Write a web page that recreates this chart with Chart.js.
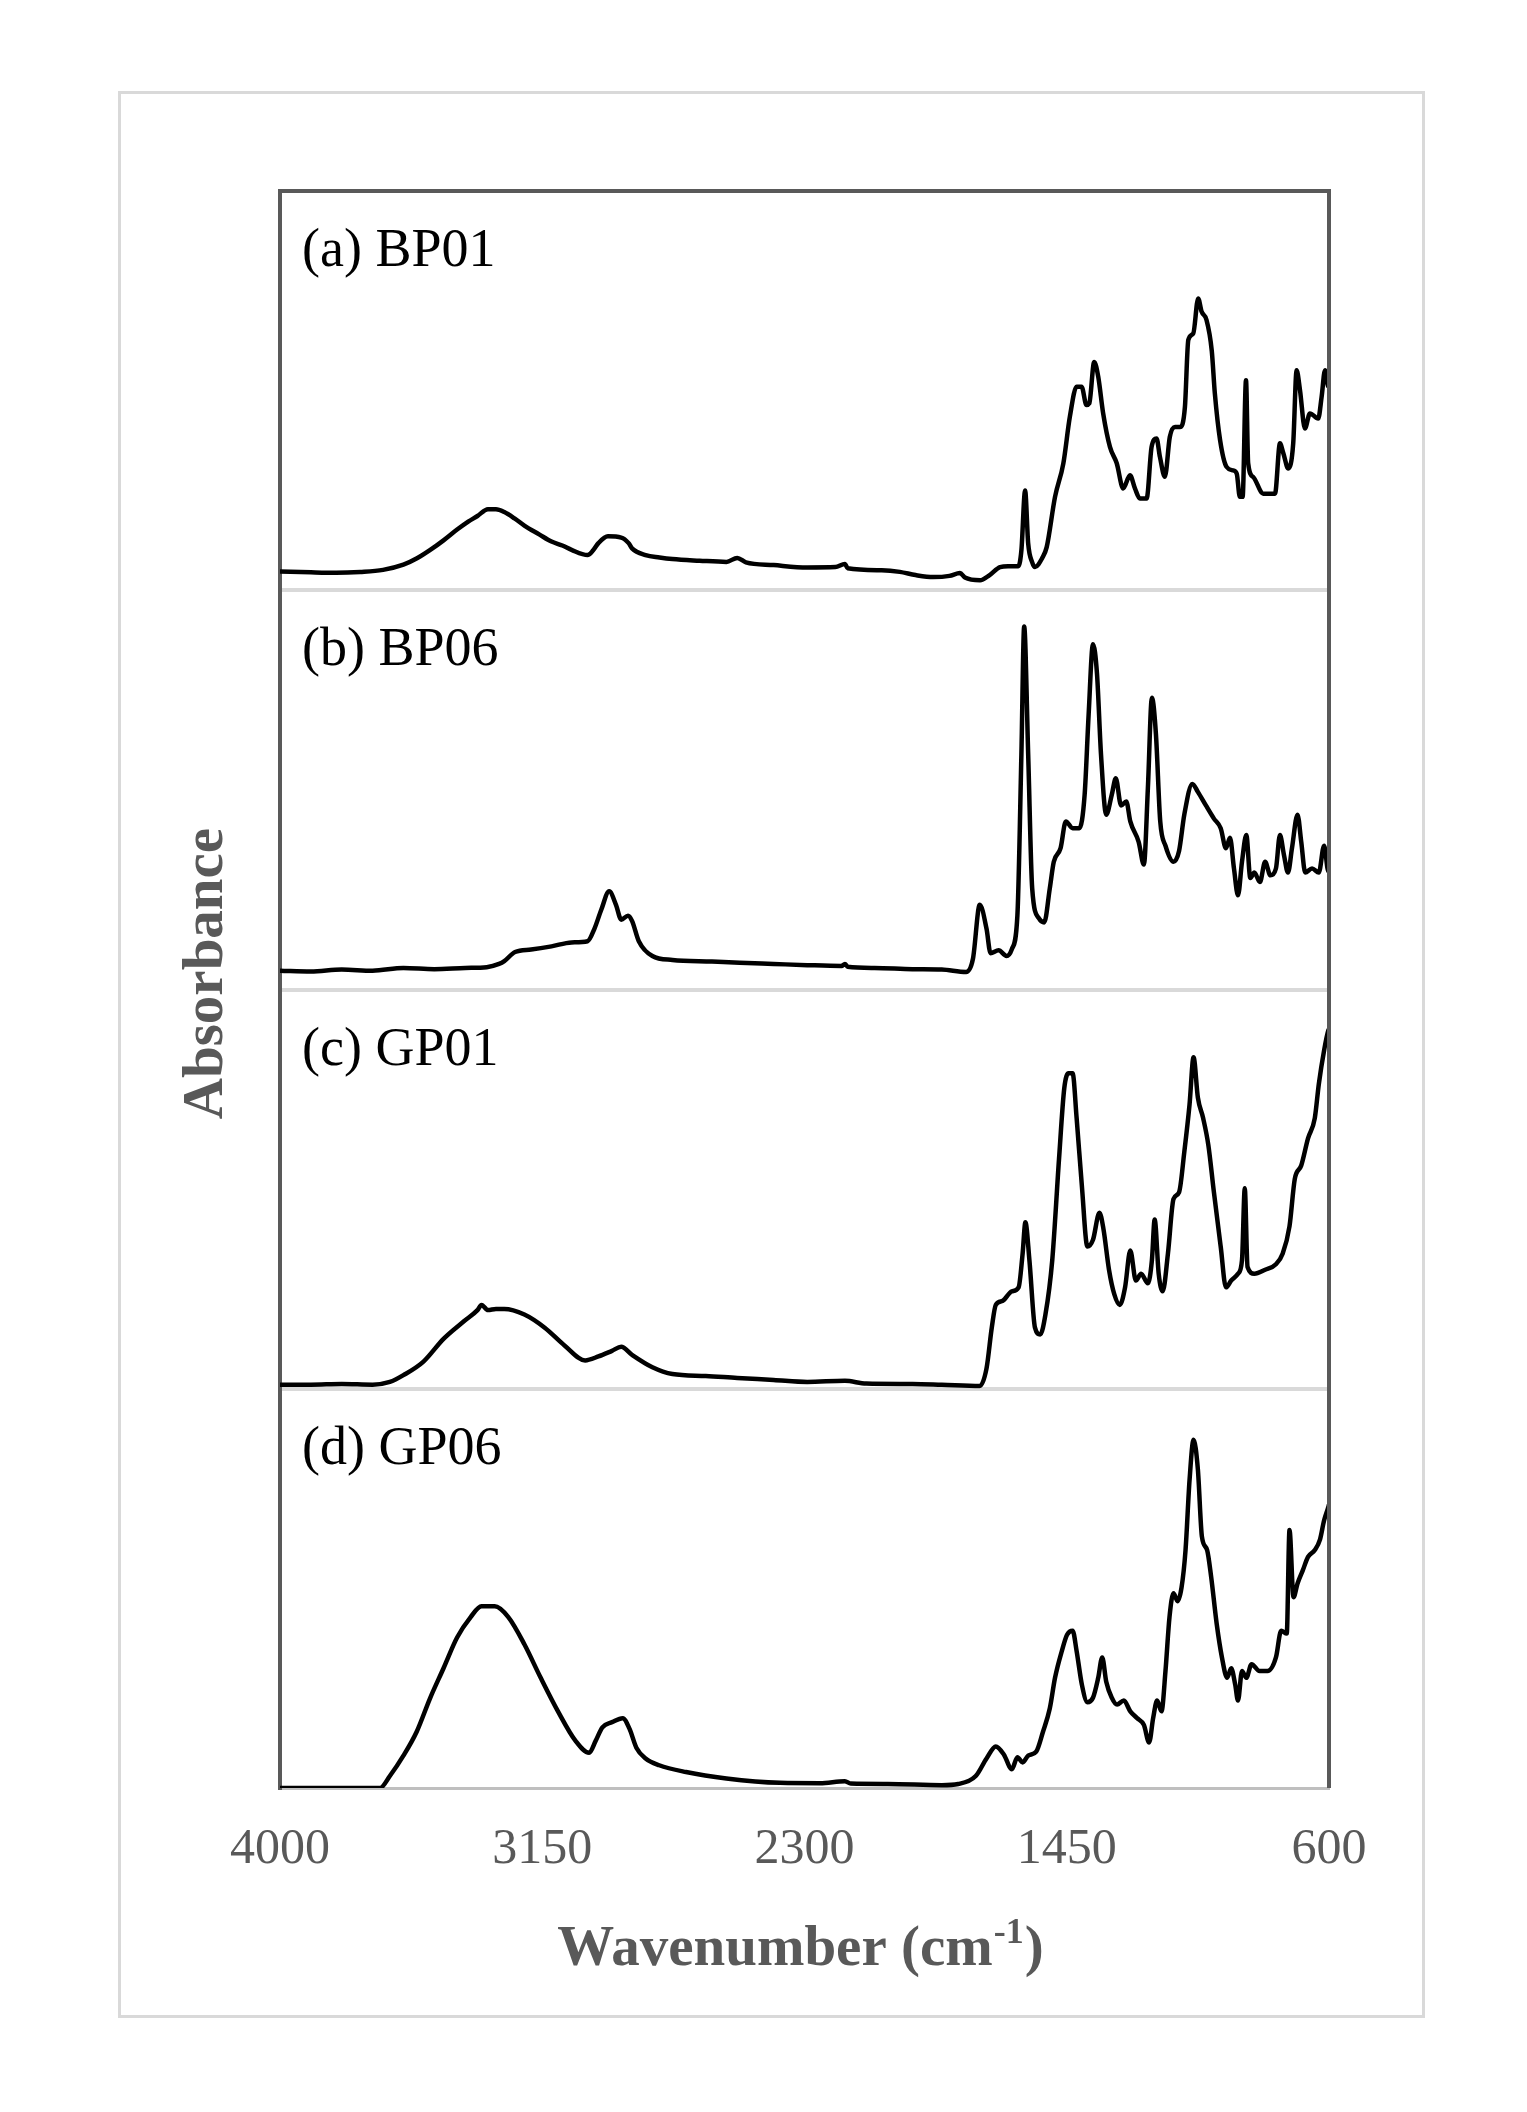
<!DOCTYPE html>
<html>
<head>
<meta charset="utf-8">
<script src="https://cdn.jsdelivr.net/npm/chart.js@4.4.1/dist/chart.umd.min.js"></script>
<style>
  html, body { margin: 0; padding: 0; background: #fff; }
  #frame { position: absolute; left: 118px; top: 91px; width: 1307px; height: 1927px; box-sizing: border-box; border: 3px solid #d9d9d9; }
  #spectra { position: absolute; left: 0; top: 0; }
</style>
</head>
<body>
<div id="frame"></div>
<canvas id="spectra" width="1527" height="2112"></canvas>
<script>
// FTIR spectra, absorbance in arbitrary units (0..1 of each panel)
var panelLabels = ['(a) BP01', '(b) BP06', '(c) GP01', '(d) GP06'];
var xTickValues = [4000, 3150, 2300, 1450, 600];

var bp01Wn = [4000, 3900, 3818, 3740, 3666, 3600, 3556, 3513, 3470, 3426, 3390, 3360, 3326, 3300, 3273, 3240, 3208, 3160, 3120, 3085, 3055, 3003, 2985, 2968, 2937, 2894, 2870, 2859, 2815, 2770, 2728, 2640, 2553, 2518, 2490, 2400, 2291, 2200, 2169, 2160, 2050, 1991, 1940, 1883, 1830, 1796, 1780, 1731, 1700, 1666, 1640, 1607, 1597, 1585, 1575, 1562, 1553, 1530, 1515, 1488, 1461, 1440, 1418, 1402, 1386, 1377, 1361, 1348, 1332, 1310, 1288, 1267, 1245, 1229, 1213, 1191, 1175, 1159, 1148, 1132, 1116, 1099, 1083, 1067, 1056, 1040, 1024, 1013, 997, 980, 970, 953, 932, 910, 899, 889, 880, 869, 862, 846, 813, 775, 759, 748, 732, 716, 705, 694, 678, 662, 635, 624, 613, 602, 600];
var bp01Abs = [0.047, 0.045, 0.044, 0.046, 0.051, 0.064, 0.080, 0.101, 0.125, 0.152, 0.172, 0.186, 0.203, 0.203, 0.196, 0.180, 0.162, 0.140, 0.122, 0.112, 0.101, 0.088, 0.100, 0.118, 0.135, 0.132, 0.118, 0.105, 0.088, 0.082, 0.078, 0.074, 0.071, 0.081, 0.070, 0.063, 0.057, 0.058, 0.066, 0.055, 0.050, 0.046, 0.038, 0.033, 0.036, 0.043, 0.032, 0.025, 0.038, 0.058, 0.060, 0.060, 0.100, 0.250, 0.117, 0.070, 0.058, 0.080, 0.108, 0.234, 0.318, 0.434, 0.510, 0.510, 0.464, 0.468, 0.572, 0.535, 0.443, 0.359, 0.318, 0.255, 0.288, 0.255, 0.230, 0.230, 0.359, 0.380, 0.334, 0.284, 0.384, 0.409, 0.409, 0.459, 0.627, 0.643, 0.731, 0.698, 0.677, 0.600, 0.493, 0.376, 0.309, 0.300, 0.292, 0.234, 0.234, 0.526, 0.318, 0.284, 0.242, 0.242, 0.368, 0.343, 0.305, 0.368, 0.551, 0.501, 0.405, 0.443, 0.430, 0.484, 0.551, 0.510, 0.520];

var bp06Wn = [4000, 3900, 3800, 3700, 3600, 3500, 3400, 3330, 3290, 3273, 3238, 3186, 3120, 3055, 3003, 2981, 2959, 2933, 2911, 2894, 2872, 2859, 2837, 2793, 2728, 2600, 2510, 2400, 2291, 2180, 2169, 2160, 2073, 1950, 1855, 1776, 1754, 1732, 1710, 1697, 1671, 1645, 1628, 1610, 1597, 1588, 1575, 1562, 1540, 1523, 1505, 1492, 1470, 1453, 1431, 1409, 1392, 1379, 1365, 1352, 1339, 1322, 1304, 1291, 1274, 1257, 1244, 1217, 1200, 1187, 1174, 1161, 1147, 1130, 1104, 1086, 1069, 1043, 1025, 999, 973, 951, 934, 921, 908, 895, 882, 868, 855, 842, 824, 807, 790, 772, 759, 746, 733, 720, 702, 690, 677, 655, 633, 616, 602, 600];
var bp06Abs = [0.047, 0.045, 0.050, 0.047, 0.054, 0.051, 0.054, 0.056, 0.064, 0.071, 0.094, 0.100, 0.108, 0.118, 0.121, 0.152, 0.199, 0.246, 0.212, 0.175, 0.185, 0.172, 0.121, 0.084, 0.074, 0.070, 0.067, 0.064, 0.061, 0.059, 0.064, 0.057, 0.054, 0.051, 0.050, 0.044, 0.077, 0.212, 0.152, 0.091, 0.098, 0.084, 0.101, 0.185, 0.589, 0.909, 0.589, 0.253, 0.178, 0.168, 0.253, 0.320, 0.354, 0.421, 0.404, 0.404, 0.488, 0.690, 0.865, 0.791, 0.589, 0.438, 0.488, 0.529, 0.461, 0.471, 0.421, 0.370, 0.313, 0.505, 0.731, 0.640, 0.421, 0.360, 0.320, 0.347, 0.438, 0.515, 0.495, 0.461, 0.428, 0.404, 0.354, 0.380, 0.303, 0.236, 0.320, 0.387, 0.279, 0.293, 0.269, 0.320, 0.286, 0.303, 0.387, 0.337, 0.293, 0.354, 0.438, 0.370, 0.293, 0.303, 0.293, 0.360, 0.296, 0.300];

var gp01Wn = [4000, 3900, 3800, 3700, 3644, 3600, 3535, 3470, 3404, 3360, 3347, 3326, 3300, 3273, 3208, 3142, 3077, 3011, 2968, 2924, 2894, 2859, 2793, 2728, 2620, 2518, 2400, 2291, 2169, 2100, 1950, 1855, 1732, 1710, 1693, 1680, 1658, 1628, 1606, 1593, 1584, 1571, 1553, 1536, 1519, 1497, 1475, 1458, 1444, 1431, 1418, 1401, 1383, 1365, 1344, 1331, 1313, 1296, 1278, 1261, 1244, 1226, 1209, 1187, 1174, 1165, 1152, 1139, 1122, 1104, 1086, 1069, 1052, 1039, 1025, 1008, 991, 973, 951, 934, 917, 895, 882, 873, 864, 842, 807, 772, 750, 728, 711, 690, 668, 646, 633, 616, 602, 600];
var gp01Abs = [0.010, 0.010, 0.012, 0.010, 0.017, 0.034, 0.068, 0.125, 0.169, 0.197, 0.210, 0.197, 0.200, 0.200, 0.186, 0.153, 0.108, 0.071, 0.081, 0.095, 0.105, 0.085, 0.054, 0.037, 0.032, 0.027, 0.022, 0.017, 0.020, 0.013, 0.012, 0.010, 0.007, 0.051, 0.153, 0.210, 0.220, 0.244, 0.254, 0.339, 0.417, 0.322, 0.153, 0.136, 0.186, 0.322, 0.576, 0.753, 0.790, 0.790, 0.678, 0.508, 0.356, 0.373, 0.441, 0.400, 0.298, 0.237, 0.210, 0.254, 0.346, 0.271, 0.288, 0.264, 0.322, 0.424, 0.288, 0.244, 0.339, 0.475, 0.492, 0.593, 0.712, 0.830, 0.729, 0.678, 0.610, 0.492, 0.356, 0.254, 0.271, 0.288, 0.322, 0.502, 0.305, 0.288, 0.298, 0.312, 0.339, 0.407, 0.525, 0.559, 0.627, 0.678, 0.763, 0.847, 0.898, 0.900];

var gp06Wn = [4000, 3800, 3676, 3644, 3600, 3557, 3513, 3470, 3426, 3382, 3347, 3304, 3260, 3208, 3155, 3099, 3042, 2998, 2977, 2955, 2924, 2889, 2867, 2845, 2815, 2771, 2684, 2553, 2379, 2250, 2169, 2150, 2030, 1855, 1802, 1745, 1710, 1680, 1654, 1628, 1610, 1593, 1575, 1549, 1527, 1505, 1488, 1466, 1449, 1431, 1418, 1401, 1383, 1365, 1348, 1335, 1322, 1304, 1287, 1265, 1244, 1222, 1200, 1183, 1170, 1157, 1143, 1130, 1117, 1104, 1091, 1078, 1065, 1052, 1039, 1025, 1012, 995, 982, 964, 947, 930, 917, 904, 895, 882, 868, 851, 825, 799, 772, 755, 737, 728, 715, 702, 685, 668, 646, 629, 616, 602, 600];
var gp06Abs = [0.000, 0.000, 0.000, 0.030, 0.081, 0.141, 0.226, 0.300, 0.377, 0.428, 0.455, 0.455, 0.428, 0.360, 0.276, 0.192, 0.118, 0.088, 0.118, 0.152, 0.165, 0.175, 0.148, 0.101, 0.074, 0.057, 0.040, 0.024, 0.013, 0.012, 0.017, 0.011, 0.010, 0.007, 0.010, 0.030, 0.074, 0.104, 0.084, 0.047, 0.077, 0.064, 0.081, 0.091, 0.141, 0.199, 0.276, 0.343, 0.384, 0.394, 0.343, 0.259, 0.215, 0.226, 0.276, 0.327, 0.266, 0.226, 0.209, 0.219, 0.192, 0.175, 0.158, 0.114, 0.175, 0.219, 0.192, 0.293, 0.428, 0.488, 0.468, 0.502, 0.596, 0.771, 0.872, 0.798, 0.630, 0.596, 0.529, 0.411, 0.327, 0.276, 0.300, 0.259, 0.219, 0.293, 0.276, 0.310, 0.293, 0.293, 0.327, 0.394, 0.387, 0.646, 0.478, 0.512, 0.545, 0.579, 0.596, 0.623, 0.670, 0.704, 0.710];

var serif = '"Liberation Serif", "Times New Roman", serif';
var panelAxes = ['yA', 'yB', 'yC', 'yD'];

function toPoints(wn, abs) {
    return wn.map(function (w, i) { return { x: w, y: abs[i] }; });
}

function spectrum(wn, abs, axisId) {
    return {
        data: toPoints(wn, abs),
        xAxisID: 'x',
        yAxisID: axisId,
        borderColor: '#000000',
        borderWidth: 4.5,
        borderJoinStyle: 'round',
        pointRadius: 0,
        fill: false,
        cubicInterpolationMode: 'monotone'
    };
}

// one axis per panel, stacked on top of each other
function panelAxis(weight, showSeparator) {
    return {
        type: 'linear',
        position: 'left',
        stack: 'panels',
        stackWeight: 1,
        weight: weight,
        min: 0,
        max: 1,
        ticks: { display: false, stepSize: 1 },
        grid: {
            drawTicks: false,
            lineWidth: 4,
            color: function (c) {
                return showSeparator && c.tick && c.tick.value === 0 ? '#d9d9d9' : 'rgba(0,0,0,0)';
            }
        },
        border: { color: '#595959', width: 4 }
    };
}

var decor = {
    id: 'decor',
    afterDraw: function (chart) {
        var ctx = chart.ctx;
        var a = chart.chartArea;
        ctx.save();

        // top and right edge of the plot
        ctx.strokeStyle = '#595959';
        ctx.lineWidth = 4;
        ctx.beginPath();
        ctx.moveTo(a.left - 2, a.top);
        ctx.lineTo(a.right, a.top);
        ctx.lineTo(a.right, a.bottom);
        ctx.stroke();

        // panel names
        ctx.fillStyle = '#000000';
        ctx.font = '54px ' + serif;
        ctx.textAlign = 'left';
        ctx.textBaseline = 'alphabetic';
        panelAxes.forEach(function (id, i) {
            var s = chart.scales[id];
            ctx.fillText(panelLabels[i], a.left + 22, s.top + 75);
        });

        // y title
        ctx.fillStyle = '#595959';
        ctx.font = 'bold 57px ' + serif;
        ctx.save();
        ctx.translate(207, (a.top + a.bottom) / 2 - 16);
        ctx.rotate(-Math.PI / 2);
        ctx.textAlign = 'center';
        ctx.textBaseline = 'middle';
        ctx.fillText('Absorbance', 0, 0);
        ctx.restore();

        // x title with superscript
        var main = 'Wavenumber (cm', sup = '-1', tail = ')';
        ctx.textAlign = 'left';
        ctx.textBaseline = 'alphabetic';
        ctx.font = 'bold 57px ' + serif;
        var w1 = ctx.measureText(main).width;
        var w3 = ctx.measureText(tail).width;
        ctx.font = 'bold 36px ' + serif;
        var w2 = ctx.measureText(sup).width;
        var x0 = (a.left + a.right) / 2 - 5 - (w1 + w2 + w3) / 2;
        var yb = a.bottom + 177;
        ctx.font = 'bold 57px ' + serif;
        ctx.fillText(main, x0, yb);
        ctx.font = 'bold 36px ' + serif;
        ctx.fillText(sup, x0 + w1 + 1, yb - 22);
        ctx.font = 'bold 57px ' + serif;
        ctx.fillText(tail, x0 + w1 + w2 + 2, yb);

        ctx.restore();
    }
};

var ctx = document.getElementById('spectra').getContext('2d');
var myChart = new Chart(ctx, {
    type: 'line',
    data: {
        datasets: [
            spectrum(bp01Wn, bp01Abs, 'yA'),
            spectrum(bp06Wn, bp06Abs, 'yB'),
            spectrum(gp01Wn, gp01Abs, 'yC'),
            spectrum(gp06Wn, gp06Abs, 'yD')
        ]
    },
    options: {
        responsive: false,
        animation: false,
        devicePixelRatio: 1,
        events: [],
        layout: { padding: { left: 280, right: 198, top: 191, bottom: 200 } },
        plugins: { legend: { display: false }, tooltip: { enabled: false } },
        scales: {
            x: {
                type: 'linear',
                reverse: true,
                min: 600,
                max: 4000,
                afterBuildTicks: function (axis) {
                    axis.ticks = xTickValues.map(function (v) { return { value: v }; });
                },
                ticks: {
                    autoSkip: false,
                    maxRotation: 0,
                    padding: 32,
                    color: '#595959',
                    font: { family: serif, size: 50 },
                    callback: function (v) { return String(v); }
                },
                grid: { display: false, drawTicks: false },
                border: { color: '#bfbfbf', width: 3 }
            },
            yA: panelAxis(4, true),
            yB: panelAxis(3, true),
            yC: panelAxis(2, true),
            yD: panelAxis(1, false)
        }
    },
    plugins: [decor]
});
</script>
</body>
</html>
